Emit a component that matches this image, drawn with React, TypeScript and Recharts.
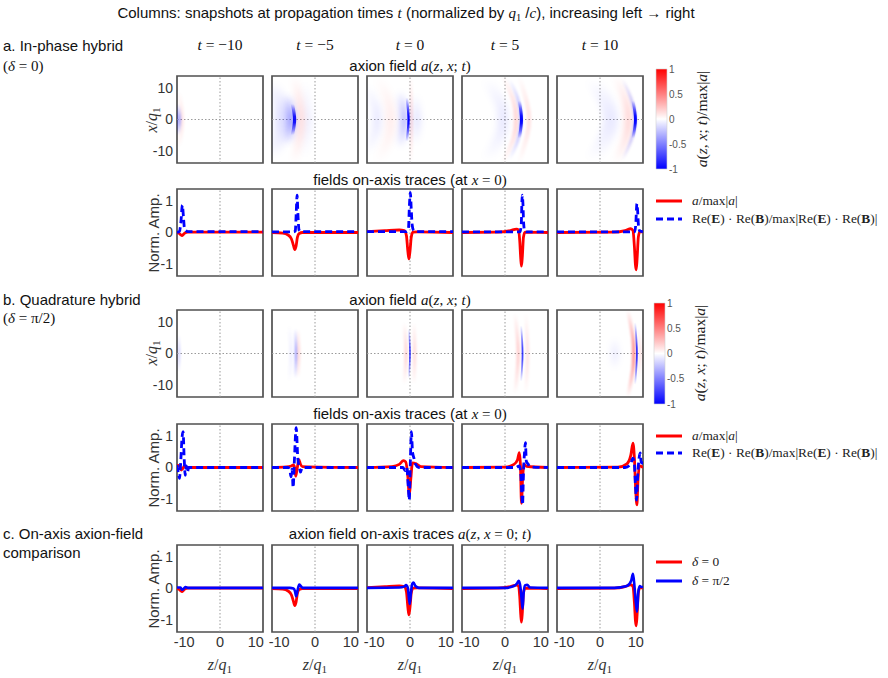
import React from 'react';
import { LineChart, Line, XAxis, YAxis, ReferenceLine, ReferenceArea, BarChart, Bar } from 'recharts';

type Pt = [number, number];
type Band = { amp: number; spread: number; pts: Pt[] };

// ---------- axes ----------
const times = [-10, -5, 0, 5, 10];
const zTicks = [-10, 0, 10];
const xTicks = [-10, 0, 10];
const ampTicks = [-1, 0, 1];
const cbTicks = [-1, -0.5, 0, 0.5, 1];
const zDomain: [number, number] = [-12, 12];
const xDomain: [number, number] = [-14, 14];
const ampDomain: [number, number] = [-1.4, 1.4];

// ---------- δ = 0 : on-axis axion field a/max|a| ----------
const aIP_m10: Pt[] = [[-12, 0], [-11.5, -0.02], [-11, -0.07], [-10.6, -0.1], [-10.2, -0.06], [-9.7, -0.01], [-9, 0.01], [12, 0.01]];
const aIP_m5: Pt[] = [[-12, 0], [-9, -0.02], [-7.5, -0.08], [-6.6, -0.2], [-6.0, -0.42], [-5.65, -0.55], [-5.3, -0.45], [-4.9, -0.15], [-4.4, -0.03], [-3.5, 0], [12, 0]];
const aIP_0: Pt[] = [[-12, 0.03], [-7, 0.06], [-3, 0.08], [-1.6, 0.06], [-1.0, -0.1], [-0.6, -0.6], [-0.3, -0.85], [0, -0.6], [0.35, -0.15], [0.8, 0.01], [2, 0.02], [12, 0]];
const aIP_5: Pt[] = [[-12, 0], [-2, 0.01], [1.5, 0.06], [3.2, 0.11], [3.8, 0.08], [4.1, -0.25], [4.4, -0.85], [4.6, -1.08], [4.85, -0.75], [5.15, -0.15], [5.6, 0.01], [12, 0]];
const aIP_10: Pt[] = [[-12, 0], [4, 0.01], [7, 0.06], [8.6, 0.12], [9.2, 0.06], [9.6, -0.45], [9.9, -1.05], [10.1, -1.2], [10.35, -0.85], [10.7, -0.15], [11.1, 0.03], [12, 0.02]];

// ---------- δ = 0 : Re(E)·Re(B) normalised ----------
const ebIP_m10: Pt[] = [[-12, 0], [-11.3, 0.04], [-10.9, 0.35], [-10.5, 0.88], [-10.2, 0.5], [-9.9, 0.12], [-9.5, 0.06], [-9, 0.03], [12, 0.03]];
const ebIP_m5: Pt[] = [[-12, 0.02], [-6, 0.02], [-5.5, 0.05], [-5.25, 0.6], [-5.0, 1.2], [-4.75, 0.55], [-4.45, 0.08], [-4, 0.03], [12, 0.03]];
const ebIP_0: Pt[] = [[-12, 0.03], [-1, 0.03], [-0.45, 0.1], [-0.15, 0.9], [0.1, 1.28], [0.35, 0.75], [0.6, 0.25], [0.95, 0.08], [1.6, 0.03], [12, 0.03]];
const ebIP_5: Pt[] = [[-12, 0.02], [4.2, 0.02], [4.55, 0.3], [4.8, 1.2], [5.0, 0.95], [5.2, 0.3], [5.5, 0.05], [6, 0.02], [12, 0.02]];
const ebIP_10: Pt[] = [[-12, 0.02], [9.7, 0.02], [10.0, 0.3], [10.3, 0.93], [10.5, 0.7], [10.75, 0.2], [11.1, 0.05], [12, 0.03]];

// ---------- δ = π/2 : on-axis axion field a/max|a| ----------
const aQ_m10: Pt[] = [[-12, 0.05], [-11.6, 0.07], [-11.2, 0.02], [-10.8, -0.08], [-10.4, -0.04], [-10, 0.04], [-9.5, 0.02], [-9, 0], [12, 0]];
const aQ_m5: Pt[] = [[-12, 0], [-8, 0.02], [-6.6, 0.05], [-6, 0.08], [-5.7, 0.0], [-5.4, -0.28], [-5.0, -0.05], [-4.5, 0.25], [-4.1, 0.12], [-3.5, 0.03], [12, 0]];
const aQ_0: Pt[] = [[-12, 0], [-5, 0.03], [-3, 0.1], [-1.8, 0.22], [-1.2, 0.18], [-0.6, -0.3], [-0.2, -0.9], [0.2, -0.4], [0.7, 0.15], [1.7, 0.12], [3, 0.03], [12, 0]];
const aQ_5: Pt[] = [[-12, 0], [0, 0.01], [2.5, 0.1], [3.5, 0.25], [4.0, 0.48], [4.3, 0.1], [4.6, -1.15], [4.9, -0.4], [5.3, 0.1], [6, 0.04], [12, 0]];
const aQ_10: Pt[] = [[-12, 0], [5, 0.01], [7.5, 0.12], [8.6, 0.4], [9.2, 0.78], [9.6, 0.3], [10.0, -0.8], [10.3, -1.2], [10.6, -0.4], [11, 0.05], [12, 0]];

// ---------- δ = π/2 : Re(E)·Re(B) normalised ----------
const ebQ_m10: Pt[] = [[-12, 0.08], [-11.6, -0.2], [-11.3, -0.35], [-11.0, 0.1], [-10.6, 0.95], [-10.3, 1.15], [-10.0, 0.3], [-9.7, -0.25], [-9.4, 0.05], [-9.1, -0.15], [-8.7, 0], [12, 0]];
const ebQ_m5: Pt[] = [[-12, 0], [-7.5, 0], [-7.0, -0.1], [-6.7, -0.3], [-6.4, -0.05], [-6.1, -0.65], [-5.8, 0.1], [-5.25, 1.28], [-4.8, 0.3], [-4.3, -0.02], [-4.05, -0.15], [-3.6, 0], [12, 0]];
const ebQ_0: Pt[] = [[-12, 0], [-2, 0], [-1.3, -0.1], [-0.9, 0], [-0.5, -0.6], [-0.2, -1.05], [0.1, 0.2], [0.4, 1.15], [0.7, 0.5], [1.1, 0.3], [1.6, 0.1], [2.5, 0], [12, 0]];
const ebQ_5: Pt[] = [[-12, 0], [3, 0], [4, 0.05], [4.4, -0.2], [4.7, -0.9], [4.9, -1.2], [5.15, -0.2], [5.45, 0.5], [5.7, 0.8], [5.95, 0.2], [6.4, 0.12], [7, 0.02], [12, 0]];
const ebQ_10: Pt[] = [[-12, 0], [7, 0], [8.5, 0.1], [9.2, 0.3], [9.6, 0.1], [9.9, -0.6], [10.2, -1.05], [10.5, -0.3], [10.9, 0.3], [11.2, 0.47], [11.5, 0.15], [11.8, 0.25], [12, 0.1]];

// ---------- comparison row: δ = π/2 axion on the common scale ----------
const cQ_m10: Pt[] = [[-12, 0.03], [-11, 0.03], [-10.6, -0.04], [-10.1, 0.0], [-9.6, 0.05], [-9, 0.02], [12, 0.02]];
const cQ_m5: Pt[] = [[-12, 0.02], [-7, 0.02], [-6, 0.0], [-5.6, -0.08], [-5.25, -0.25], [-4.9, -0.08], [-4.4, 0.13], [-4.0, 0.08], [-3.4, 0.02], [12, 0.02]];
const cQ_0: Pt[] = [[-12, 0.02], [-3, 0.03], [-1.6, 0.06], [-1.1, 0.11], [-0.6, 0.02], [-0.1, -0.5], [0.25, -0.15], [0.6, 0.14], [1.0, 0.19], [1.5, 0.08], [2.5, 0.02], [12, 0.02]];
const cQ_5: Pt[] = [[-12, 0.02], [0, 0.02], [2.5, 0.08], [3.4, 0.17], [3.85, 0.25], [4.3, 0.05], [4.6, -0.3], [4.9, -0.65], [5.2, -0.15], [5.6, 0.1], [6.2, 0.12], [7, 0.03], [12, 0.02]];
const cQ_10: Pt[] = [[-12, 0.02], [4, 0.02], [7.5, 0.08], [8.7, 0.25], [9.2, 0.47], [9.6, 0.1], [10, -0.45], [10.35, -0.75], [10.7, -0.1], [11.1, 0.08], [11.5, 0.05], [12, 0.05]];

// ---------- field maps: wavefront bands (amplitude, spread in z, crest line) ----------
const hIP_m10: Band[] = [
  { amp: 0.08, spread: 1.2, pts: [[-11.4, 9], [-10.6, 0], [-11.4, -9]] },
  { amp: -0.3, spread: 1.3, pts: [[-11.9, 5], [-11.5, 0], [-11.9, -5]] },
];
const hIP_m5: Band[] = [
  { amp: -0.12, spread: 3.5, pts: [[-12, 12], [-9.8, 6], [-9.3, 0], [-9.8, -6], [-12, -12]] },
  { amp: -0.38, spread: 2.2, pts: [[-7.6, 8], [-6.7, 0], [-7.6, -8]] },
  { amp: -0.95, spread: 0.9, pts: [[-6.3, 5], [-5.7, 0], [-6.3, -5]] },
  { amp: 0.16, spread: 1.6, pts: [[-5.8, 14], [-4.3, 6], [-3.9, 0], [-4.3, -6], [-5.8, -14]] },
  { amp: -0.06, spread: 2, pts: [[-3, 12], [-1.8, 0], [-3, -12]] },
];
const hIP_0: Band[] = [
  { amp: -0.08, spread: 2.5, pts: [[-12, 11], [-9.5, 4], [-9.2, 0], [-9.5, -4], [-12, -11]] },
  { amp: 0.07, spread: 2.5, pts: [[-9, 14], [-6, 6], [-5.4, 0], [-6, -6], [-9, -14]] },
  { amp: -0.3, spread: 1.8, pts: [[-2.8, 9], [-1.6, 0], [-2.8, -9]] },
  { amp: -1, spread: 0.65, pts: [[-0.9, 7], [-0.4, 0], [-0.9, -7]] },
  { amp: 0.16, spread: 0.6, pts: [[0.3, 14], [0.45, 0], [0.3, -14]] },
  { amp: -0.1, spread: 2, pts: [[1.4, 8], [2.0, 0], [1.4, -8]] },
];
const hIP_5: Band[] = [
  { amp: -0.08, spread: 3, pts: [[-5, 13], [-1.2, 5], [-0.6, 0], [-1.2, -5], [-5, -13]] },
  { amp: 0.14, spread: 1.3, pts: [[-0.5, 14], [2.4, 6], [3.1, 0], [2.4, -6], [-0.5, -14]] },
  { amp: -0.28, spread: 0.9, pts: [[1.2, 13], [3.5, 7], [4.5, 0], [3.5, -7], [1.2, -13]] },
  { amp: -1, spread: 0.85, pts: [[4.0, 6], [4.6, 0], [4.0, -6]] },
  { amp: 0.1, spread: 1.3, pts: [[4, 14], [6.2, 5], [6.7, 0], [6.2, -5], [4, -14]] },
];
const hIP_10: Band[] = [
  { amp: -0.08, spread: 4, pts: [[-2, 13], [2, 5], [3, 0], [2, -5], [-2, -13]] },
  { amp: 0.2, spread: 1.6, pts: [[4.3, 14], [7, 7], [8.0, 0], [7, -7], [4.3, -14]] },
  { amp: -0.3, spread: 0.8, pts: [[6.3, 13], [8.6, 7], [9.8, 0], [8.6, -7], [6.3, -13]] },
  { amp: -1, spread: 0.8, pts: [[9.2, 6], [9.9, 0], [9.2, -6]] },
];

const hQ_m10: Band[] = [
  { amp: -0.18, spread: 0.6, pts: [[-11.5, 6], [-11.4, 0], [-11.5, -6]] },
];
const hQ_m5: Band[] = [
  { amp: -0.05, spread: 1.2, pts: [[-7.2, 9], [-6.6, 0], [-7.2, -9]] },
  { amp: -0.45, spread: 0.5, pts: [[-5.5, 8], [-5.3, 0], [-5.5, -8]] },
  { amp: 0.14, spread: 0.8, pts: [[-4.7, 8], [-4.5, 0], [-4.7, -8]] },
];
const hQ_0: Band[] = [
  { amp: 0.14, spread: 1, pts: [[-1.6, 10], [-1.1, 0], [-1.6, -10]] },
  { amp: -0.75, spread: 0.45, pts: [[-0.3, 8], [0, 0], [-0.3, -8]] },
  { amp: 0.12, spread: 1, pts: [[1.1, 10], [1.3, 0], [1.1, -10]] },
];
const hQ_5: Band[] = [
  { amp: 0.17, spread: 1.0, pts: [[2.8, 13], [3.7, 0], [2.8, -13]] },
  { amp: -0.75, spread: 0.5, pts: [[4.5, 9], [4.9, 0], [4.5, -9]] },
  { amp: 0.1, spread: 1.0, pts: [[5.8, 13], [6.3, 0], [5.8, -13]] },
];
const hQ_10: Band[] = [
  { amp: -0.07, spread: 2, pts: [[4.0, 5], [4.2, 0], [4.0, -5]] },
  { amp: 0.4, spread: 1.0, pts: [[7.8, 14], [9.2, 5], [9.4, 0], [9.2, -5], [7.8, -14]] },
  { amp: -0.8, spread: 0.5, pts: [[9.8, 10], [10.3, 0], [9.8, -10]] },
  { amp: 0.1, spread: 0.8, pts: [[10.8, 8], [11.2, 0], [10.8, -8]] },
];

// column groupings
const inPhaseAxion = [aIP_m10, aIP_m5, aIP_0, aIP_5, aIP_10];
const inPhaseEB = [ebIP_m10, ebIP_m5, ebIP_0, ebIP_5, ebIP_10];
const quadAxion = [aQ_m10, aQ_m5, aQ_0, aQ_5, aQ_10];
const quadEB = [ebQ_m10, ebQ_m5, ebQ_0, ebQ_5, ebQ_10];
const quadCompare = [cQ_m10, cQ_m5, cQ_0, cQ_5, cQ_10];
const inPhaseMaps = [hIP_m10, hIP_m5, hIP_0, hIP_5, hIP_10];
const quadMaps = [hQ_m10, hQ_m5, hQ_0, hQ_5, hQ_10];
const colorbarData = [{ k: 'a', r: [-1, 1] }];

// ---------- layout ----------
const COL_LEFT = [177, 272, 367, 462, 557];
const COL_MID = COL_LEFT.map((l) => l + 43);
const PW = 86;
const PH = 87;
const PAD = 4;
const YW = 30;
const XH = 26;
const ROW_TOP = { heatA: 76, traceA: 189, heatB: 310, traceB: 424, comp: 545 };

const RED = '#ff0000';
const BLUE = '#0000ff';
const SANS = '"Liberation Sans", Arial, sans-serif';
const SERIF = '"Liberation Serif", "Times New Roman", serif';

const toRows = (pts: Pt[], key: string) => pts.map(([z, v]) => ({ z, [key]: v }));

type PanelProps = {
  left: number;
  top: number;
  showY: boolean;
  showX: boolean;
  yDomain: [number, number];
  yTicks: number[];
  crossY?: boolean;
  defs?: React.ReactNode;
  children?: React.ReactNode;
};

function Panel({ left, top, showY, showX, yDomain, yTicks, crossY, defs, children }: PanelProps) {
  const w = PW + 2 * PAD + (showY ? YW : 0);
  const h = PH + 2 * PAD + (showX ? XH : 0);
  return (
    <div style={{ position: 'absolute', left: left - PAD - (showY ? YW : 0), top: top - PAD }}>
      <LineChart width={w} height={h} margin={{ top: PAD, right: PAD, bottom: PAD, left: PAD }}>
        {defs}
        <XAxis
          type="number"
          dataKey="z"
          domain={zDomain}
          ticks={zTicks}
          allowDataOverflow
          hide={!showX}
          height={XH}
          interval={0}
          tickLine={false}
          axisLine={false}
          tickSize={0}
          tickMargin={5}
          tick={{ fontSize: 14.5, fill: '#333', fontFamily: SANS }}
        />
        <YAxis
          type="number"
          domain={yDomain}
          ticks={yTicks}
          allowDataOverflow
          hide={!showY}
          width={YW}
          interval={0}
          tickLine={false}
          axisLine={false}
          tickSize={0}
          tickMargin={4}
          tick={{ fontSize: 14, fill: '#333', fontFamily: SANS }}
        />
        <ReferenceLine x={0} stroke="#9a9a9a" strokeWidth={1} strokeDasharray="1.5 2" />
        {crossY && <ReferenceLine y={0} stroke="#9a9a9a" strokeWidth={1} strokeDasharray="1.5 2" />}
        {children}
        <ReferenceArea
          x1={zDomain[0]}
          x2={zDomain[1]}
          y1={yDomain[0]}
          y2={yDomain[1]}
          fill="none"
          fillOpacity={0}
          stroke="#505050"
          strokeWidth={1.7}
          ifOverflow="visible"
        />
      </LineChart>
    </div>
  );
}

function HeatPanel({ col, bands, top, tag }: { col: number; bands: Band[]; top: number; tag: string }) {
  const pxPerZ = PW / (zDomain[1] - zDomain[0]);
  const id = `${tag}${col}`;
  const blurFor = (b: Band) => (b.spread > 1.5 ? 'wide' : Math.abs(b.amp) > 0.45 ? 'sharp' : 'soft');
  const defs = (
    <defs>
      <filter id={`${id}-sharp`} filterUnits="userSpaceOnUse" x={-60} y={-60} width={320} height={320}>
        <feGaussianBlur stdDeviation={0.7} />
      </filter>
      <filter id={`${id}-soft`} filterUnits="userSpaceOnUse" x={-60} y={-60} width={320} height={320}>
        <feGaussianBlur stdDeviation={1.3} />
      </filter>
      <filter id={`${id}-wide`} filterUnits="userSpaceOnUse" x={-60} y={-60} width={320} height={320}>
        <feGaussianBlur stdDeviation={3} />
      </filter>
      {bands.map((b, i) => {
        const c = b.amp < 0 ? BLUE : RED;
        const o = Math.min(1, Math.abs(b.amp));
        return (
          <linearGradient key={i} id={`${id}-g${i}`} x1="0" y1="0" x2="0" y2="1">
            <stop offset="0%" stopColor={c} stopOpacity={0} />
            <stop offset="18%" stopColor={c} stopOpacity={o * 0.45} />
            <stop offset="40%" stopColor={c} stopOpacity={o * 0.95} />
            <stop offset="50%" stopColor={c} stopOpacity={o} />
            <stop offset="60%" stopColor={c} stopOpacity={o * 0.95} />
            <stop offset="82%" stopColor={c} stopOpacity={o * 0.45} />
            <stop offset="100%" stopColor={c} stopOpacity={0} />
          </linearGradient>
        );
      })}
    </defs>
  );
  return (
    <Panel
      left={COL_LEFT[col]}
      top={top}
      showY={col === 0}
      showX={false}
      yDomain={xDomain}
      yTicks={xTicks}
      crossY
      defs={defs}
    >
      {bands.map((b, i) => (
        <Line
          key={i}
          data={toRows(b.pts, 'x')}
          dataKey="x"
          type="natural"
          stroke={`url(#${id}-g${i})`}
          strokeWidth={b.spread * pxPerZ}
          strokeLinecap="round"
          filter={`url(#${id}-${blurFor(b)})`}
          dot={false}
          activeDot={false}
          isAnimationActive={false}
        />
      ))}
    </Panel>
  );
}

function TracePanel({
  col,
  top,
  red,
  blue,
  dashed,
  showX,
}: {
  col: number;
  top: number;
  red: Pt[];
  blue: Pt[];
  dashed: boolean;
  showX: boolean;
}) {
  return (
    <Panel left={COL_LEFT[col]} top={top} showY={col === 0} showX={showX} yDomain={ampDomain} yTicks={ampTicks}>
      <Line
        data={toRows(red, 'v')}
        dataKey="v"
        type="monotone"
        stroke={RED}
        strokeWidth={2.8}
        dot={false}
        activeDot={false}
        isAnimationActive={false}
      />
      <Line
        data={toRows(blue, 'v')}
        dataKey="v"
        type="monotone"
        stroke={BLUE}
        strokeWidth={dashed ? 2.8 : 2.6}
        strokeDasharray={dashed ? '7 4' : undefined}
        dot={false}
        activeDot={false}
        isAnimationActive={false}
      />
    </Panel>
  );
}

function ColorBar({ left, top, height, id }: { left: number; top: number; height: number; id: string }) {
  const barW = 10;
  const m = 8;
  return (
    <div style={{ position: 'absolute', left: left - 1, top: top - m }}>
      <BarChart
        width={barW + 2 + 28}
        height={height + 2 * m}
        data={colorbarData}
        margin={{ top: m, right: 0, bottom: m, left: 1 }}
        barCategoryGap={0}
      >
        <defs>
          <linearGradient id={id} x1="0" y1="0" x2="0" y2="1">
            <stop offset="0%" stopColor="#ff0000" />
            <stop offset="50%" stopColor="#ffffff" />
            <stop offset="100%" stopColor="#0000ff" />
          </linearGradient>
        </defs>
        <XAxis dataKey="k" type="category" hide />
        <YAxis
          orientation="right"
          type="number"
          domain={[-1, 1]}
          ticks={cbTicks}
          interval={0}
          width={28}
          tickLine={false}
          axisLine={false}
          tickSize={0}
          tickMargin={2}
          tick={{ fontSize: 10, fill: '#555', fontFamily: SANS }}
        />
        <Bar dataKey="r" fill={`url(#${id})`} stroke="#d0d0d0" strokeWidth={0.6} isAnimationActive={false} />
      </BarChart>
    </div>
  );
}

// ---------- text helpers ----------
function Txt({
  x,
  y,
  anchor = 'start',
  size = 15,
  font = SANS,
  rotate = false,
  color = '#111',
  children,
}: {
  x: number;
  y: number;
  anchor?: 'start' | 'middle';
  size?: number;
  font?: string;
  rotate?: boolean;
  color?: string;
  children: React.ReactNode;
}) {
  const tx = anchor === 'middle' || rotate ? '-50%' : '0';
  return (
    <div
      style={{
        position: 'absolute',
        left: x,
        top: y,
        transform: `translate(${tx}, -50%)${rotate ? ' rotate(-90deg)' : ''}`,
        fontFamily: font,
        fontSize: size,
        color,
        whiteSpace: 'nowrap',
        lineHeight: 1,
      }}
    >
      {children}
    </div>
  );
}

const I = ({ children }: { children: React.ReactNode }) => (
  <span style={{ fontFamily: SERIF, fontStyle: 'italic' }}>{children}</span>
);
const R = ({ children }: { children: React.ReactNode }) => <span style={{ fontFamily: SERIF }}>{children}</span>;
const Sub = ({ children }: { children: React.ReactNode }) => (
  <sub style={{ fontSize: '0.7em', verticalAlign: '-0.25em', fontFamily: SERIF }}>{children}</sub>
);

const AField = () => (
  <>
    <I>a</I>
    <R>(</R>
    <I>z</I>
    <R>, </R>
    <I>x</I>
    <R>; </R>
    <I>t</I>
    <R>)</R>
  </>
);

function LegendEntry({ top, color, dashed, children }: { top: number; color: string; dashed?: boolean; children: React.ReactNode }) {
  return (
    <div style={{ position: 'absolute', left: 655, top: top - 9, height: 18, display: 'flex', alignItems: 'center' }}>
      <svg width={28} height={18}>
        <line x1={1} y1={9} x2={27} y2={9} stroke={color} strokeWidth={3} strokeDasharray={dashed ? '7 4' : undefined} />
      </svg>
      <span style={{ marginLeft: 9, fontFamily: SERIF, fontSize: 13.4, color: '#222', whiteSpace: 'nowrap' }}>{children}</span>
    </div>
  );
}

const EBLabel = () => (
  <>
    Re(<b>E</b>) · Re(<b>B</b>)/max|Re(<b>E</b>) · Re(<b>B</b>)|
  </>
);
const ALabel = () => (
  <>
    <i>a</i>/max|<i>a</i>|
  </>
);

export default function App() {
  return (
    <div
      style={{
        position: 'absolute',
        left: 0,
        top: 0,
        width: 888,
        height: 678,
        background: '#fff',
        overflow: 'hidden',
        fontFamily: SANS,
      }}
    >
      {/* headings */}
      <Txt x={406} y={14} anchor="middle" size={15}>
        Columns: snapshots at propagation times <I>t</I> (normalized by <I>q</I>
        <Sub>1</Sub> /<I>c</I>), increasing left → right
      </Txt>
      <Txt x={3} y={45}>a. In-phase hybrid</Txt>
      <Txt x={3} y={66}>
        <R>(</R>
        <I>δ</I>
        <R> = 0)</R>
      </Txt>
      <Txt x={3} y={299}>b. Quadrature hybrid</Txt>
      <Txt x={3} y={318}>
        <R>(</R>
        <I>δ</I>
        <R> = π/2)</R>
      </Txt>
      <Txt x={3} y={533}>c. On-axis axion-field</Txt>
      <Txt x={3} y={552}>comparison</Txt>

      {times.map((t, i) => (
        <Txt key={t} x={COL_MID[i]} y={45} anchor="middle" size={15.5}>
          <I>t</I>
          <R> = {t < 0 ? `−${-t}` : t}</R>
        </Txt>
      ))}

      <Txt x={410} y={66} anchor="middle">
        axion field <AField />
      </Txt>
      <Txt x={410} y={180} anchor="middle">
        fields on-axis traces (at <I>x</I>
        <R> = 0)</R>
      </Txt>
      <Txt x={410} y={300} anchor="middle">
        axion field <AField />
      </Txt>
      <Txt x={410} y={414} anchor="middle">
        fields on-axis traces (at <I>x</I>
        <R> = 0)</R>
      </Txt>
      <Txt x={410} y={534} anchor="middle">
        axion field on-axis traces <I>a</I>
        <R>(</R>
        <I>z</I>
        <R>, </R>
        <I>x</I>
        <R> = 0; </R>
        <I>t</I>
        <R>)</R>
      </Txt>

      {/* axis titles */}
      <Txt x={153} y={120} rotate size={16} color="#333">
        <I>x</I>
        <R>/</R>
        <I>q</I>
        <Sub>1</Sub>
      </Txt>
      <Txt x={153} y={353} rotate size={16} color="#333">
        <I>x</I>
        <R>/</R>
        <I>q</I>
        <Sub>1</Sub>
      </Txt>
      <Txt x={153} y={233} rotate size={15} color="#333">Norm. Amp.</Txt>
      <Txt x={153} y={468} rotate size={15} color="#333">Norm. Amp.</Txt>
      <Txt x={153} y={589} rotate size={15} color="#333">Norm. Amp.</Txt>
      {COL_MID.map((m, i) => (
        <Txt key={i} x={m} y={666} anchor="middle" size={16} color="#333">
          <I>z</I>
          <R>/</R>
          <I>q</I>
          <Sub>1</Sub>
        </Txt>
      ))}

      {/* row a: field maps and traces */}
      {inPhaseMaps.map((bands, i) => (
        <HeatPanel key={`ha${i}`} col={i} bands={bands} top={ROW_TOP.heatA} tag="ha" />
      ))}
      {times.map((_, i) => (
        <TracePanel key={`ta${i}`} col={i} top={ROW_TOP.traceA} red={inPhaseAxion[i]} blue={inPhaseEB[i]} dashed showX={false} />
      ))}

      {/* row b */}
      {quadMaps.map((bands, i) => (
        <HeatPanel key={`hb${i}`} col={i} bands={bands} top={ROW_TOP.heatB} tag="hb" />
      ))}
      {times.map((_, i) => (
        <TracePanel key={`tb${i}`} col={i} top={ROW_TOP.traceB} red={quadAxion[i]} blue={quadEB[i]} dashed showX={false} />
      ))}

      {/* row c */}
      {times.map((_, i) => (
        <TracePanel key={`tc${i}`} col={i} top={ROW_TOP.comp} red={inPhaseAxion[i]} blue={quadCompare[i]} dashed={false} showX />
      ))}

      {/* colour bars */}
      <ColorBar left={656} top={69} height={100} id="cbA" />
      <ColorBar left={654} top={303} height={101} id="cbB" />
      <Txt x={702} y={119} rotate size={15.5} color="#222">
        <AField />
        <R>/max|</R>
        <I>a</I>
        <R>|</R>
      </Txt>
      <Txt x={700} y={353} rotate size={15.5} color="#222">
        <AField />
        <R>/max|</R>
        <I>a</I>
        <R>|</R>
      </Txt>

      {/* legends */}
      <LegendEntry top={201} color={RED}>
        <ALabel />
      </LegendEntry>
      <LegendEntry top={219} color={BLUE} dashed>
        <EBLabel />
      </LegendEntry>
      <LegendEntry top={436} color={RED}>
        <ALabel />
      </LegendEntry>
      <LegendEntry top={453} color={BLUE} dashed>
        <EBLabel />
      </LegendEntry>
      <LegendEntry top={562} color={RED}>
        <i>δ</i> = 0
      </LegendEntry>
      <LegendEntry top={581} color={BLUE}>
        <i>δ</i> = π/2
      </LegendEntry>
    </div>
  );
}
